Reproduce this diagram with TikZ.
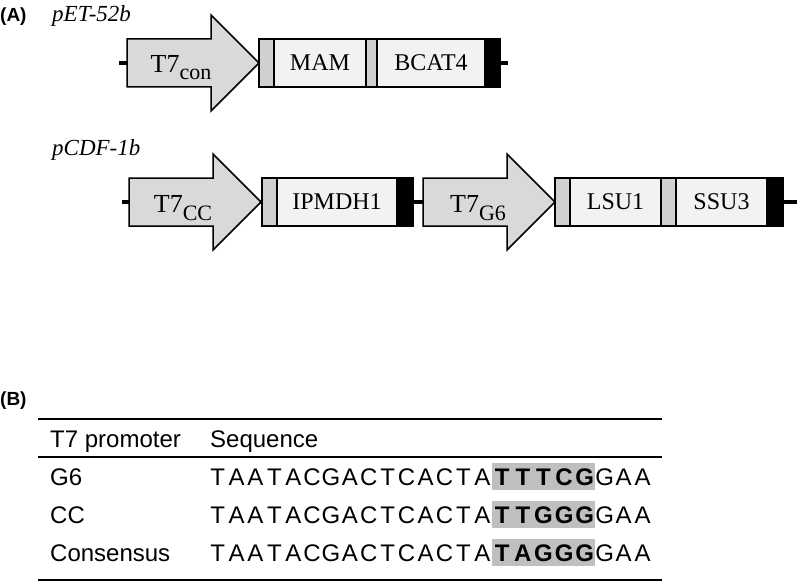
\documentclass[tikz,border=0pt]{standalone}
\usepackage{fontspec}
\setmainfont{Liberation Serif}
\setsansfont{Liberation Sans}
\usetikzlibrary{calc}

\definecolor{promfill}{HTML}{D9D9D9}
\definecolor{genefill}{HTML}{F2F2F2}
\definecolor{spacerfill}{HTML}{D0D0D0}
\definecolor{hlgray}{HTML}{BFBFBF}

% letters of a sequence, one per fixed-width cell
\newcommand{\seqcells}[2]{\def\seqw{#1}\seqloop#2\relax}
\def\seqloop#1{\ifx#1\relax\else\makebox[\seqw][c]{#1}\expandafter\seqloop\fi}

\tikzset{
	seg/.style={draw, line width=1.5pt, minimum height=48, inner sep=0, outer sep=0, anchor=west},
	gene/.style={seg, fill=genefill, font=\fontsize{24}{24}\selectfont},
	spacer/.style={seg, fill=spacerfill},
	term/.style={seg, fill=black},
	promoter/.style={draw, line width=1.5pt, fill=promfill, line join=miter},
	plabel/.style={inner sep=0, anchor=base, font=\fontsize{26}{26}\selectfont},
	backbone/.style={line width=4pt},
	vector/.style={inner sep=0, anchor=base west, font=\itshape\fontsize{23}{23}\selectfont},
	panel/.style={inner sep=0, anchor=base west, font=\sffamily\bfseries\fontsize{19}{19}\selectfont},
	cell/.style={inner sep=0, font=\sffamily\fontsize{24}{24}\selectfont},
	hl/.style={fill=hlgray, minimum width=103, minimum height=27, font=\sffamily\bfseries\fontsize{24}{24}\selectfont},
	rule/.style={line width=1.5pt}
}

\begin{document}
\begin{tikzpicture}[x=1pt, y=-1pt]
				\useasboundingbox (0,0) rectangle (800,583);

				% PANEL A, pET-52b

				\node[panel] (pa) at (0,22) {(A)};
				\node[vector] (pet) at (52,22) {pET-52b};

				\coordinate (b1s) at (119,63);
				\coordinate (b1e) at (508,63);
				\draw[backbone] (b1s) -- (b1e);

				\draw[promoter] (127,39) -- ++(84,0) -- ++(0,-24) -- ++(48,48) -- ++(-48,48) -- ++(0,-24) -- ++(-84,0) -- cycle;
				\node[plabel] (t7con) at (181,73) {T7\raisebox{-7pt}{\fontsize{22}{22}\selectfont con}};

				\node[spacer, minimum width=15] (sp1) at (259,63) {};
				\node[gene, minimum width=92] (mam) at (274,63) {MAM};
				\node[spacer, minimum width=11] (sp2) at (366,63) {};
				\node[gene, minimum width=108] (bcat) at (377,63) {BCAT4};
				\node[term, minimum width=15] (tm1) at (485,63) {};

				% PANEL A, pCDF-1b

				\node[vector] (pcdf) at (52,155) {pCDF-1b};

				\coordinate (b2s) at (122,202);
				\coordinate (b2e) at (797,202);
				\draw[backbone] (b2s) -- (b2e);

				\draw[promoter] (129,178) -- ++(84,0) -- ++(0,-24) -- ++(48,48) -- ++(-48,48) -- ++(0,-24) -- ++(-84,0) -- cycle;
				\node[plabel] (t7cc) at (183,212) {T7\raisebox{-8pt}{\fontsize{22}{22}\selectfont CC}};

				\node[spacer, minimum width=15] (sp3) at (262,202) {};
				\node[gene, minimum width=120] (ipm) at (277,202) {IPMDH1};
				\node[term, minimum width=16] (tm2) at (397,202) {};

				\draw[promoter] (423,178) -- ++(84,0) -- ++(0,-24) -- ++(48,48) -- ++(-48,48) -- ++(0,-24) -- ++(-84,0) -- cycle;
				\node[plabel] (t7g6) at (478,212) {T7\raisebox{-8pt}{\fontsize{22}{22}\selectfont G6}};

				\node[spacer, minimum width=15] (sp4) at (555,202) {};
				\node[gene, minimum width=91] (lsu) at (570,202) {LSU1};
				\node[spacer, minimum width=15] (sp5) at (661,202) {};
				\node[gene, minimum width=91] (ssu) at (676,202) {SSU3};
				\node[term, minimum width=16] (tm3) at (767,202) {};

				% PANEL B, table

				\node[panel] (pb) at (0,405) {(B)};

				\draw[rule] (38,419) -- (662,419);
				\draw[rule] (38,457) -- (662,457);
				\draw[line width=2.5pt] (38,580) -- (662,580);

				\node[cell, anchor=base west] (hprom) at (50,447) {T7 promoter};
				\node[cell, anchor=base west] (hseq) at (210,447) {Sequence};

				\node[cell, anchor=base west] (rg6) at (50,485) {G6};
				\node[cell, anchor=base west] (rg6a) at (208,485) {\seqcells{18.9pt}{TAATACGACTCACTA}};
				\node[cell, hl, anchor=base] (rg6b) at (543.5,485) {\seqcells{20.6pt}{TTTCG}};
				\node[cell, anchor=base west] (rg6c) at (595,485) {\seqcells{19pt}{GAA}};

				\node[cell, anchor=base west] (rcc) at (50,523) {CC};
				\node[cell, anchor=base west] (rcca) at (208,523) {\seqcells{18.9pt}{TAATACGACTCACTA}};
				\node[cell, hl, anchor=base] (rccb) at (543.5,523) {\seqcells{20.6pt}{TTGGG}};
				\node[cell, anchor=base west] (rccc) at (595,523) {\seqcells{19pt}{GAA}};

				\node[cell, anchor=base west] (rcon) at (50,561) {Consensus};
				\node[cell, anchor=base west] (rcona) at (208,561) {\seqcells{18.9pt}{TAATACGACTCACTA}};
				\node[cell, hl, anchor=base] (rconb) at (543.5,561) {\seqcells{20.6pt}{TAGGG}};
				\node[cell, anchor=base west] (rconc) at (595,561) {\seqcells{19pt}{GAA}};
\end{tikzpicture}
\end{document}
